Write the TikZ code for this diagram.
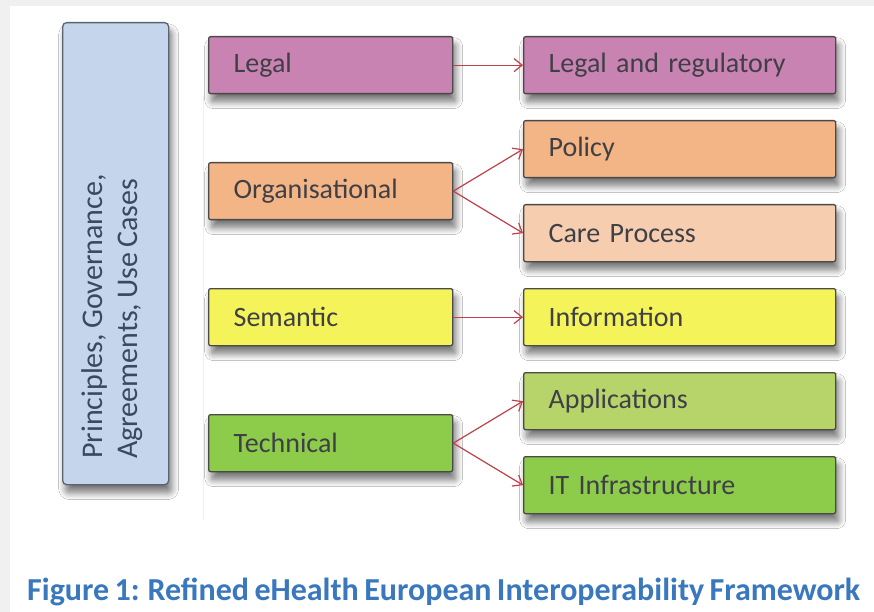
\documentclass[tikz,border=0pt]{standalone}
\usepackage{fontspec}
\setmainfont{Carlito}[WordSpace=0.75]
\usetikzlibrary{shadows.blur,arrows.meta}
\definecolor{bgout}{HTML}{F0F0F0}
\definecolor{boxline}{HTML}{4A4A4A}
\definecolor{txt}{HTML}{3F3F46}
\definecolor{sidefill}{HTML}{C5D5EB}
\definecolor{sideline}{HTML}{5A6470}
\definecolor{sidetxt}{HTML}{3A4A5E}
\definecolor{legalc}{HTML}{C983B2}
\definecolor{orgc}{HTML}{F3B486}
\definecolor{carec}{HTML}{F7CDB0}
\definecolor{semc}{HTML}{F4F45A}
\definecolor{techc}{HTML}{8DCB4B}
\definecolor{appc}{HTML}{B6D46A}
\definecolor{arrc}{HTML}{C0404A}
\definecolor{capc}{HTML}{3A78BE}
\tikzset{
  shad/.style={blur shadow={shadow xshift=3pt, shadow yshift=-8pt, shadow blur radius=7pt, shadow blur steps=10, shadow opacity=55}},
  lbox/.style={draw=boxline, line width=1.3pt, rounded corners=2pt,
    minimum height=57pt, minimum width=244pt, text width=194pt,
    inner xsep=25pt, inner ysep=0pt, align=left, anchor=north west,
    font=\fontsize{28}{32}\selectfont, text=txt, shad},
  rbox/.style={lbox, minimum width=312pt, text width=262pt},
  conn/.style={draw=arrc, line width=1.2pt, -{Straight Barb[length=8pt,width=13pt,line width=1.2pt]}},
}
\begin{document}
\begin{tikzpicture}[x=1pt,y=-1pt]
\useasboundingbox (0,0) rectangle (874,612);
\fill[bgout] (0,0) rectangle (874,612);
\fill[white] (10,6) rectangle (874,612);
\draw[black!6, line width=1pt] (203,95) -- (203,520);
% side box
\node[draw=sideline, line width=1.3pt, rounded corners=4pt, fill=sidefill,
  minimum width=106pt, minimum height=462pt, anchor=north west, shad]
  (side) at (62,22) {};
\node[rotate=90, anchor=west, align=left, inner sep=0pt, text=sidetxt,
  font=\fontsize{30}{35}\selectfont] (sidetext) at (112,459)
  {Principles, Governance,\\Agreements, Use Cases};
% left column
\node[lbox, fill=legalc] (legal) at (208,36) {Legal};
\node[lbox, fill=orgc] (org) at (208,162) {Organisational};
\node[lbox, fill=semc] (sem) at (208,288) {Semantic};
\node[lbox, fill=techc] (tech) at (208,414) {Technical};
% right column
\node[rbox, fill=legalc] (lr) at (523,36) {Legal and regulatory};
\node[rbox, fill=orgc] (pol) at (523,120) {Policy};
\node[rbox, fill=carec] (care) at (523,204) {Care Process};
\node[rbox, fill=semc] (info) at (523,288) {Information};
\node[rbox, fill=appc] (app) at (523,372) {Applications};
\node[rbox, fill=techc] (itinf) at (523,456) {IT Infrastructure};
% connectors
\draw[conn] (legal.east) -- (lr.west);
\draw[conn] (org.east) -- (pol.west);
\draw[conn] (org.east) -- (care.west);
\draw[conn] (sem.east) -- (info.west);
\draw[conn] (tech.east) -- (app.west);
\draw[conn] (tech.east) -- (itinf.west);
% caption
\node[anchor=base west, inner sep=0pt, text=capc,
  font=\fontsize{32}{36}\selectfont\bfseries] (caption) at (27,600)
  {Figure 1: Refined eHealth European Interoperability Framework};
\end{tikzpicture}
\end{document}
